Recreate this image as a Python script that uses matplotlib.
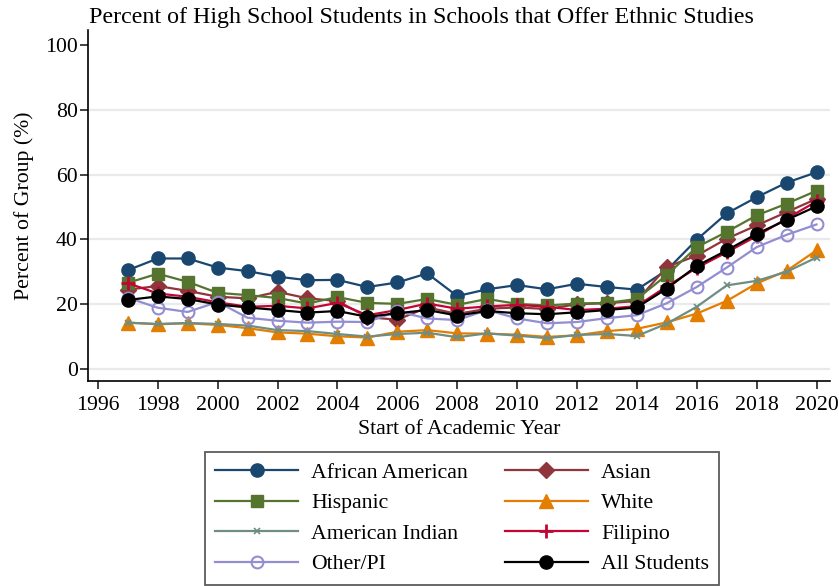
import matplotlib
matplotlib.use("Agg")
import matplotlib.pyplot as plt

# ========================================================
# DATA

YEARS = list(range(1997, 2021))

AFRICAN_AMERICAN = [30.5, 34.1, 34.1, 31.3, 30.2, 28.5, 27.4, 27.5, 25.3, 26.7, 29.5, 22.5,
                    24.6, 25.9, 24.6, 26.3, 25.3, 24.5, 30.5, 39.9, 48.0, 53.0, 57.5, 60.7]
ASIAN = [24.5, 25.6, 24.1, 22.3, 21.8, 23.8, 21.8, 21.0, 16.0, 15.2, 19.0, 17.0,
         18.6, 19.0, 18.5, 20.0, 20.3, 21.0, 31.5, 35.0, 40.2, 44.3, 48.4, 52.5]
HISPANIC = [26.6, 29.4, 26.9, 23.5, 22.8, 21.9, 20.2, 22.2, 20.4, 20.1, 21.6, 19.8,
            21.6, 20.1, 19.6, 20.2, 20.4, 21.6, 29.0, 37.6, 42.3, 47.4, 51.0, 55.0]
WHITE = [14.3, 13.8, 14.1, 13.6, 12.6, 11.3, 10.9, 10.1, 9.7, 11.5, 12.0, 11.0,
         10.9, 10.6, 9.9, 10.4, 11.7, 12.4, 14.4, 17.1, 21.0, 26.4, 30.3, 36.6]
AMERICAN_INDIAN = [14.3, 13.9, 14.2, 13.9, 13.4, 12.0, 11.7, 10.8, 10.0, 10.8, 11.2, 9.8,
                   11.0, 10.3, 9.5, 10.5, 10.8, 10.2, 14.0, 19.2, 25.8, 27.2, 30.0, 34.4]
FILIPINO = [26.5, 23.3, 22.3, 20.6, 19.2, 19.5, 18.7, 20.4, 16.6, 18.2, 20.2, 18.6,
            19.3, 19.8, 19.2, 18.2, 18.6, 19.4, 25.5, 31.2, 36.0, 41.0, 46.4, 51.7]
OTHER_PI = [22.0, 18.9, 17.6, 20.7, 15.8, 14.9, 14.3, 14.6, 14.5, 17.8, 15.6, 15.1,
            18.2, 15.6, 14.1, 14.5, 15.7, 16.6, 20.3, 25.3, 31.3, 37.6, 41.4, 44.6]
ALL_STUDENTS = [21.3, 22.4, 21.6, 19.9, 19.0, 18.2, 17.4, 17.9, 16.1, 17.2, 18.2, 16.5,
                17.9, 17.2, 16.9, 17.5, 18.2, 19.0, 24.8, 31.8, 36.6, 41.7, 46.0, 50.2]

LABELS = ["African American", "Asian", "Hispanic", "White",
          "American Indian", "Filipino", "Other/PI", "All Students"]
SERIES = [AFRICAN_AMERICAN, ASIAN, HISPANIC, WHITE,
          AMERICAN_INDIAN, FILIPINO, OTHER_PI, ALL_STUDENTS]

# ========================================================
# STYLES (stata s2color)

STYLES = [
    dict(color="#1a476f", marker="o", ms=9.5),
    dict(color="#90353b", marker="D", ms=8),
    dict(color="#55752f", marker="s", ms=8.5),
    dict(color="#e37e00", marker="^", ms=10),
    dict(color="#6e8e84", marker="x", ms=4, mew=1.2),
    dict(color="#c10534", marker="+", ms=10, mew=2),
    dict(color="#938dd2", marker="o", ms=8.5, mfc="none", mew=1.5),
    dict(color="#000000", marker="o", ms=9.5),
]

FS = 15.7

plt.rcParams["font.family"] = ["Liberation Serif", "DejaVu Serif"]

fig = plt.figure(figsize=(8.39, 5.86), dpi=100)
ax = fig.add_axes([88 / 839, 1 - 381 / 586, (830 - 88) / 839, (381 - 30) / 586])

handles = []
for vals, label, st in zip(SERIES, LABELS, STYLES):
    (h,) = ax.plot(YEARS, vals, label=label, lw=1.6, **st)
    handles.append(h)

ax.set_xlim(1995.67, 2020.45)
ax.set_ylim(-3.7, 104.6)
ax.set_xticks(range(1996, 2021, 2))
ax.set_yticks(range(0, 101, 20))
ax.tick_params(axis="both", labelsize=FS, length=6, width=1.2, color="#222222")
ax.tick_params(axis="x", pad=4.5)
ax.tick_params(axis="y", pad=1.5)
ax.yaxis.grid(True, color="#eaeaea", lw=1.6)
ax.get_ygridlines()[-1].set_visible(False)
ax.set_axisbelow(True)
for s in ["top", "right"]:
    ax.spines[s].set_visible(False)
for s in ["left", "bottom"]:
    ax.spines[s].set_linewidth(1.2)

ax.set_xlabel("Start of Academic Year", fontsize=FS, labelpad=4)
ax.set_ylabel("Percent of Group (%)", fontsize=FS, labelpad=8)

fig.text(421 / 839, 1 - 18 / 586, "Percent of High School Students in Schools that Offer Ethnic Studies",
         ha="center", va="center", fontsize=17.3)

# legend fills by column in matplotlib, so reorder to match row-wise layout
order = [0, 2, 4, 6, 1, 3, 5, 7]
leg = fig.legend([handles[i] for i in order], [LABELS[i] for i in order],
                 ncol=2, loc="upper center", bbox_to_anchor=(462 / 839, 1 - 452 / 586),
                 fontsize=FS, frameon=True, fancybox=False, handlelength=3.8,
                 handletextpad=0.6, columnspacing=1.7, labelspacing=0.47,
                 borderpad=0.48, borderaxespad=0)
leg.get_frame().set_edgecolor("#333333")
leg.get_frame().set_linewidth(1.3)

fig.savefig("out.png", dpi=100)
